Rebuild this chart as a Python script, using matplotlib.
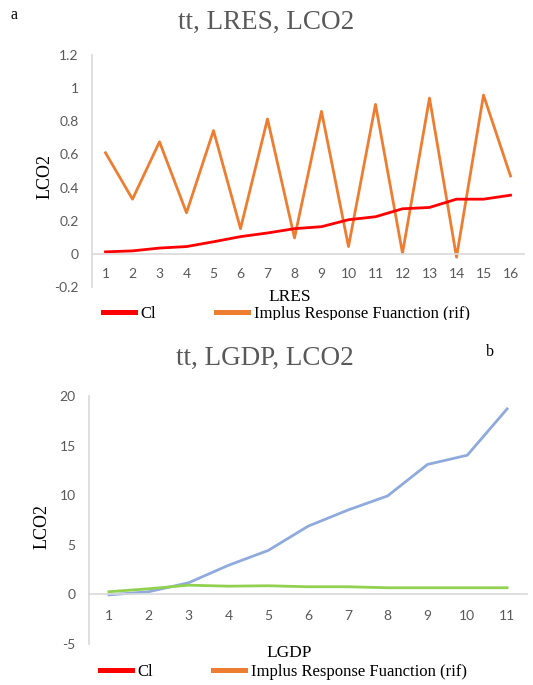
import matplotlib
matplotlib.use("Agg")
import matplotlib.pyplot as plt
from matplotlib.lines import Line2D
from matplotlib.patches import Rectangle

# Panel a: LRES
lres_steps = list(range(1, 17))
lres_cl = [0.012, 0.018, 0.035, 0.044, 0.073, 0.104, 0.126, 0.152, 0.164, 0.206,
           0.224, 0.272, 0.28, 0.33, 0.33, 0.354]
lres_irf = [0.61, 0.33, 0.676, 0.248, 0.744, 0.152, 0.814, 0.096, 0.86, 0.044,
            0.902, 0.004, 0.94, -0.02, 0.958, 0.47]
lres_yticks = [-0.2, 0, 0.2, 0.4, 0.6, 0.8, 1, 1.2]

# Panel b: LGDP
lgdp_steps = list(range(1, 12))
lgdp_blue = [-0.05, 0.27, 1.17, 2.93, 4.43, 6.87, 8.5, 9.93, 13.1, 14.03, 18.7]
lgdp_green = [0.27, 0.57, 0.93, 0.83, 0.87, 0.77, 0.77, 0.67, 0.67, 0.67, 0.67]
lgdp_yticks = [-5, 0, 5, 10, 15, 20]

legend_labels = ["Cl", "Implus Response Fuanction (rif)"]

RED = "#FF0000"
ORANGE = "#ED7D31"
BLUE = "#8FAADC"
GREEN = "#92D050"
AXIS_GREY = "#D9D9D9"
TEXT_GREY = "#595959"

SERIF = "Liberation Serif"
SANS = "Lato"

W, H = 533, 685
fig = plt.figure(figsize=(W / 100, H / 100), dpi=100)


def px_box(left, top, right, bottom):
    return [left / W, 1 - bottom / H, (right - left) / W, (bottom - top) / H]


def style_axes(ax, steps, yticks, ylim, xlabel, xpad, xlab_y, ylab_x, ylab_y):
    ax.set_xlim(0.5, len(steps) + 0.5)
    ax.set_ylim(*ylim)
    for side in ["top", "right"]:
        ax.spines[side].set_visible(False)
    ax.spines["left"].set_color(AXIS_GREY)
    ax.spines["left"].set_linewidth(1.2)
    ax.spines["bottom"].set_position(("data", 0))
    ax.spines["bottom"].set_color(AXIS_GREY)
    ax.spines["bottom"].set_linewidth(1.2)
    ax.set_xticks(steps)
    ax.set_xticklabels([str(s) for s in steps])
    ax.set_yticks(yticks)
    ax.set_yticklabels([f"{t:g}" for t in yticks])
    ax.tick_params(axis="both", length=0, colors=TEXT_GREY, labelsize=10)
    ax.tick_params(axis="x", pad=xpad)
    ax.tick_params(axis="y", pad=9.5)
    for lab in ax.get_xticklabels() + ax.get_yticklabels():
        lab.set_fontfamily(SANS)
    ax.set_xlabel(xlabel, fontfamily=SERIF, fontsize=12.5, color="black")
    ax.xaxis.set_label_coords(0.458, xlab_y)
    ax.set_ylabel("LCO2", fontfamily=SERIF, fontsize=13, color="black")
    ax.yaxis.set_label_coords(ylab_x, ylab_y)


def add_legend(ax, left_px, center_px):
    handles = [Line2D([], [], color=RED, lw=3.6),
               Line2D([], [], color=ORANGE, lw=3.6)]
    ax.legend(handles, legend_labels, loc="center left",
              bbox_to_anchor=(left_px / W, 1 - center_px / H),
              bbox_transform=fig.transFigure, ncol=2, frameon=False,
              prop={"family": SERIF, "size": 12}, handlelength=1.9,
              handletextpad=0.35, columnspacing=3.6, borderpad=0,
              borderaxespad=0)


# ---- panel a ----
ax1 = fig.add_axes(px_box(92, 55, 524, 287))
ax1.plot(lres_steps, lres_irf, color=ORANGE, lw=2)
ax1.plot(lres_steps, lres_cl, color=RED, lw=2)
style_axes(ax1, lres_steps, lres_yticks, (-0.2, 1.2), "LRES", 10,
           -0.01, -0.09, 0.478)
add_legend(ax1, 103, 314)

fig.text(266 / W, 1 - 22 / H, "tt, LRES, LCO2", ha="center", va="center",
         fontfamily=SERIF, fontsize=19.5, color=TEXT_GREY)
fig.text(14 / W, 1 - 15 / H, "a", ha="center", va="center",
         fontfamily=SERIF, fontsize=11.5, color="black")

# the lower panel sits over the bottom of the first legend
fig.add_artist(Rectangle((0, 0), 1, 1 - 320 / H, transform=fig.transFigure,
                         facecolor="white", edgecolor="none", zorder=0.5))

# ---- panel b ----
ax2 = fig.add_axes(px_box(89, 396, 527, 644))
ax2.set_zorder(1)
ax2.plot(lgdp_steps, lgdp_blue, color=BLUE, lw=2)
ax2.plot(lgdp_steps, lgdp_green, color=GREEN, lw=2)
style_axes(ax2, lgdp_steps, lgdp_yticks, (-5, 20), "LGDP", 11,
           -0.004, -0.089, 0.472)
add_legend(ax2, 100, 672)

fig.text(265 / W, 1 - 358 / H, "tt, LGDP, LCO2", ha="center", va="center",
         fontfamily=SERIF, fontsize=19.5, color=TEXT_GREY, zorder=3)
fig.text(490 / W, 1 - 352 / H, "b", ha="center", va="center",
         fontfamily=SERIF, fontsize=11.5, color="black", zorder=3)

fig.savefig("out.png", dpi=100)
